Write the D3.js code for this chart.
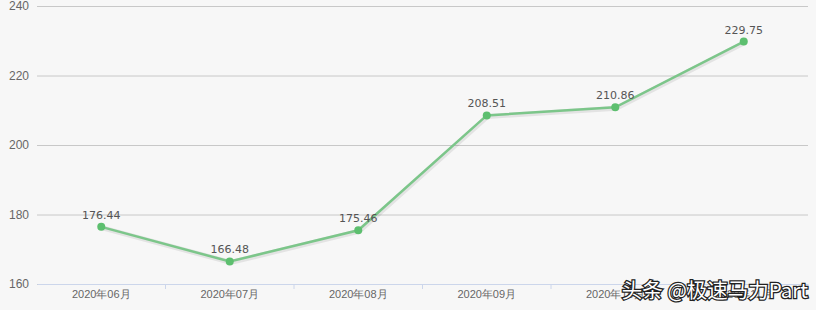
<!DOCTYPE html>
<html>
<head>
<meta charset="utf-8">
<script src="https://cdn.jsdelivr.net/npm/d3@7"></script>
<style>
  body { margin: 0; background: #f7f7f7; }
  svg { display: block; font-family: "DejaVu Sans", "Noto Sans CJK SC", sans-serif; }
</style>
</head>
<body>
<div id="chart"></div>
<script>
// Chart data
var months = ["2020年06月", "2020年07月", "2020年08月", "2020年09月", "2020年10月", "2020年11月"];
var values = [176.44, 166.48, 175.46, 208.51, 210.86, 229.75];
var yTicks = [160, 180, 200, 220, 240];

var canvas = { width: 816, height: 310 };
var margin = { left: 37, right: 8, top: 6, bottom: 26 };
var chart = {
    width: canvas.width - margin.left - margin.right,
    height: canvas.height - margin.top - margin.bottom
};

var svg = d3.select("#chart")
    .append("svg")
    .attr("width", canvas.width)
    .attr("height", canvas.height)
    .style("background-color", "#f7f7f7");

var g = svg.append("g")
    .attr("transform", "translate(" + margin.left + "," + margin.top + ")");

// Scales
var x = d3.scaleBand().domain(months).range([0, chart.width]);
var y = d3.scaleLinear().domain([160, 240]).range([chart.height, 0]);

// Grid lines + y labels
var yAxis = g.append("g")
    .call(d3.axisLeft(y).tickValues(yTicks).tickSize(-chart.width).tickPadding(8));
yAxis.select(".domain").remove();
yAxis.selectAll(".tick line").attr("stroke", "#c8c8c8");
yAxis.selectAll(".tick text")
    .attr("fill", "#666")
    .style("font-size", "12px");

// X axis
var xAxis = g.append("g")
    .attr("transform", "translate(0," + chart.height + ")")
    .call(d3.axisBottom(x).tickSize(0).tickPadding(6));
xAxis.select(".domain").attr("stroke", "#ccd6eb");
xAxis.selectAll(".tick text")
    .attr("fill", "#666")
    .style("font-size", "11px");

// band boundary ticks
g.append("g")
    .selectAll("line")
    .data(months.slice(1))
    .enter()
    .append("line")
    .attr("x1", function(d) { return x(d); })
    .attr("x2", function(d) { return x(d); })
    .attr("y1", chart.height)
    .attr("y2", chart.height + 5)
    .attr("stroke", "#ccd6eb");

var cx = function(d, i) { return x(months[i]) + x.bandwidth() / 2; };

var line = d3.line()
    .x(function(d, i) { return cx(d, i); })
    .y(function(d) { return y(d); });

// shadow
g.append("path")
    .datum(values)
    .attr("d", line)
    .attr("fill", "none")
    .attr("stroke", "#000")
    .attr("stroke-opacity", 0.08)
    .attr("stroke-width", 5)
    .attr("transform", "translate(1,1)");

g.append("path")
    .datum(values)
    .attr("d", line)
    .attr("fill", "none")
    .attr("stroke", "#7cc68a")
    .attr("stroke-width", 2.5);

g.append("g")
    .selectAll("circle")
    .data(values)
    .enter()
    .append("circle")
    .attr("cx", cx)
    .attr("cy", function(d) { return y(d); })
    .attr("r", 4)
    .attr("fill", "#5dbf6f");

// value labels
g.append("g")
    .selectAll("text")
    .data(values)
    .enter()
    .append("text")
    .attr("x", cx)
    .attr("y", function(d) { return y(d) - 8; })
    .attr("text-anchor", "middle")
    .attr("fill", "#555")
    .style("font-size", "11px")
    .text(function(d) { return d.toFixed(2); });

// watermark
svg.append("text")
    .attr("x", 808)
    .attr("y", 298)
    .attr("text-anchor", "end")
    .style("font-family", "'Noto Sans CJK SC', sans-serif")
    .style("font-size", "20.5px")
    .attr("fill", "#fff")
    .attr("stroke", "#222")
    .attr("stroke-width", 2.5)
    .attr("paint-order", "stroke")
    .text("头条 @极速马力Part");
</script>
</body>
</html>
